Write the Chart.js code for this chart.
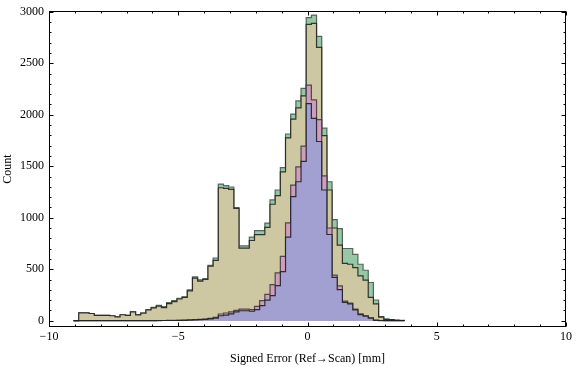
<!DOCTYPE html>
<html>
<head>
<meta charset="utf-8">
<script src="https://cdn.jsdelivr.net/npm/chart.js@4.4.0/dist/chart.umd.min.js"></script>
<style>
html,body{margin:0;padding:0;background:#fff}
</style>
</head>
<body>
<canvas id="c" width="576" height="367"></canvas>
<script>
// histogram bins: 0.2 mm wide, first edge at -9.05
var binStart = -9.05
var binWidth = 0.2

// counts per bin, drawn back to front: green, olive, pink, blue
var countsGreen = [0,77,77,70,51,51,51,48,38,58,51,86,56,74,106,
  130,150,138,175,196,218,232,300,425,397,410,538,609,1327,1311,1298,1099,727,727,811,
  875,875,948,1173,1269,1487,1813,2006,2134,2256,2942,2967,2760,1869,1349,981,894,701,701,644,
  548,490,371,201,41,19,12,5,3]
var countsOlive = [0,77,77,70,51,51,51,48,38,58,51,86,56,74,106,
  125,141,128,165,186,211,226,290,413,384,400,529,586,1291,1285,1275,1090,705,705,779,
  836,836,907,1131,1214,1445,1775,1958,2067,2182,2878,2887,2654,1798,1269,900,733,557,548,516,
  435,394,227,163,35,12,10,4,2]
var countsPink = [0,0,0,0,0,0,0,0,0,0,0,0,0,0,0,
  1,2,2,3,3,4,6,8,10,13,16,22,32,65,75,85,100,112,112,108,
  140,195,255,350,465,625,950,1317,1493,1695,2288,2144,1952,1407,900,442,339,190,172,112,
  66,47,27,5,2,1,0,0,0]
var countsBlue = [0,0,0,0,0,0,0,0,0,0,0,0,0,0,0,
  1,1,2,2,2,3,4,6,8,10,13,17,25,48,55,67,85,97,97,92,
  108,147,200,244,340,476,812,1205,1349,1548,2108,1964,1740,1269,837,420,301,179,163,105,
  60,44,25,3,1,0,0,0,0]

var xTicks = [-10,-5,0,5,10]
var yTicks = [0,500,1000,1500,2000,2500,3000]

function steps(counts){
    var pts = []
    for(var i=0;i<counts.length;i++){
        pts.push({x: +(binStart + i*binWidth).toFixed(2), y: counts[i]})
    }
    pts.push({x: +(binStart + counts.length*binWidth).toFixed(2), y: 0})
    return pts
}

function ds(counts, fillColor, lineColor){
    return {
        data: steps(counts),
        stepped: true,
        fill: 'origin',
        backgroundColor: fillColor,
        borderColor: lineColor,
        borderWidth: 1.2,
        pointRadius: 0
    }
}

// frame with inward ticks on all four sides
const frameTicks = {
    id: 'frameTicks',
    afterDraw(chart){
        const ctx = chart.ctx
        const a = chart.chartArea
        const xs = chart.scales.x, ys = chart.scales.y
        const L = Math.round(a.left)+0.5, R = Math.round(a.right)-0.5
        const T = Math.round(a.top)+0.5, B = Math.round(a.bottom)-0.5
        ctx.save()
        ctx.strokeStyle = '#000'
        ctx.lineWidth = 1
        ctx.strokeRect(L, T, R-L, B-T)
        ctx.beginPath()
        for(var v=-10; v<=10; v++){
            var px = Math.round(xs.getPixelForValue(v))+0.5
            var len = (v%5==0) ? 4 : 2
            ctx.moveTo(px, B); ctx.lineTo(px, B-len)
            ctx.moveTo(px, T); ctx.lineTo(px, T+len)
        }
        for(var c=0; c<=3000; c+=100){
            var py = Math.round(ys.getPixelForValue(c))+0.5
            var len2 = (c%500==0) ? 4 : 2
            ctx.moveTo(L, py); ctx.lineTo(L+len2, py)
            ctx.moveTo(R, py); ctx.lineTo(R-len2, py)
        }
        ctx.stroke()
        ctx.restore()
    }
}

const serif = {family: '"Liberation Serif", "DejaVu Serif", serif', size: 12, lineHeight: 1}

new Chart(document.getElementById('c'), {
    type: 'line',
    data: {
        datasets: [
            ds(countsBlue, 'rgb(162,160,208)', 'rgba(30,30,40,0.9)'),
            ds(countsPink, 'rgb(206,158,190)', 'rgba(60,50,60,0.85)'),
            ds(countsOlive, 'rgb(205,200,161)', 'rgba(35,35,30,0.9)'),
            ds(countsGreen, 'rgb(150,200,166)', 'rgba(70,90,75,0.9)')
        ]
    },
    options: {
        responsive: false,
        animation: false,
        layout: {padding: {left: 0, right: 7, top: 6, bottom: 0}},
        plugins: {legend: {display: false}, tooltip: {enabled: false}},
        scales: {
            x: {
                type: 'linear',
                min: -10, max: 10,
                grid: {display: false, drawTicks: false},
                border: {display: false},
                afterBuildTicks: s => { s.ticks = xTicks.map(v => ({value: v})) },
                afterFit: s => { s.height = 40 },
                ticks: {
                    color: '#000', font: serif, padding: 4, maxRotation: 0, autoSkip: false,
                    callback: v => v < 0 ? '\u2212' + Math.abs(v) : String(v)
                },
                title: {display: true, text: 'Signed Error (Ref\u2192Scan) [mm]', color: '#000', font: serif, padding: {top: 4, bottom: 2}}
            },
            y: {
                type: 'linear',
                min: -61, max: 3007,
                grid: {display: false, drawTicks: false},
                border: {display: false},
                afterBuildTicks: s => { s.ticks = yTicks.map(v => ({value: v})) },
                afterFit: s => { s.width = 49 },
                ticks: {color: '#000', font: serif, padding: 5, callback: v => String(v)},
                title: {display: true, text: 'Count', color: '#000', font: serif, padding: {top: 2, bottom: 2}}
            }
        }
    },
    plugins: [frameTicks]
})
</script>
</body>
</html>
